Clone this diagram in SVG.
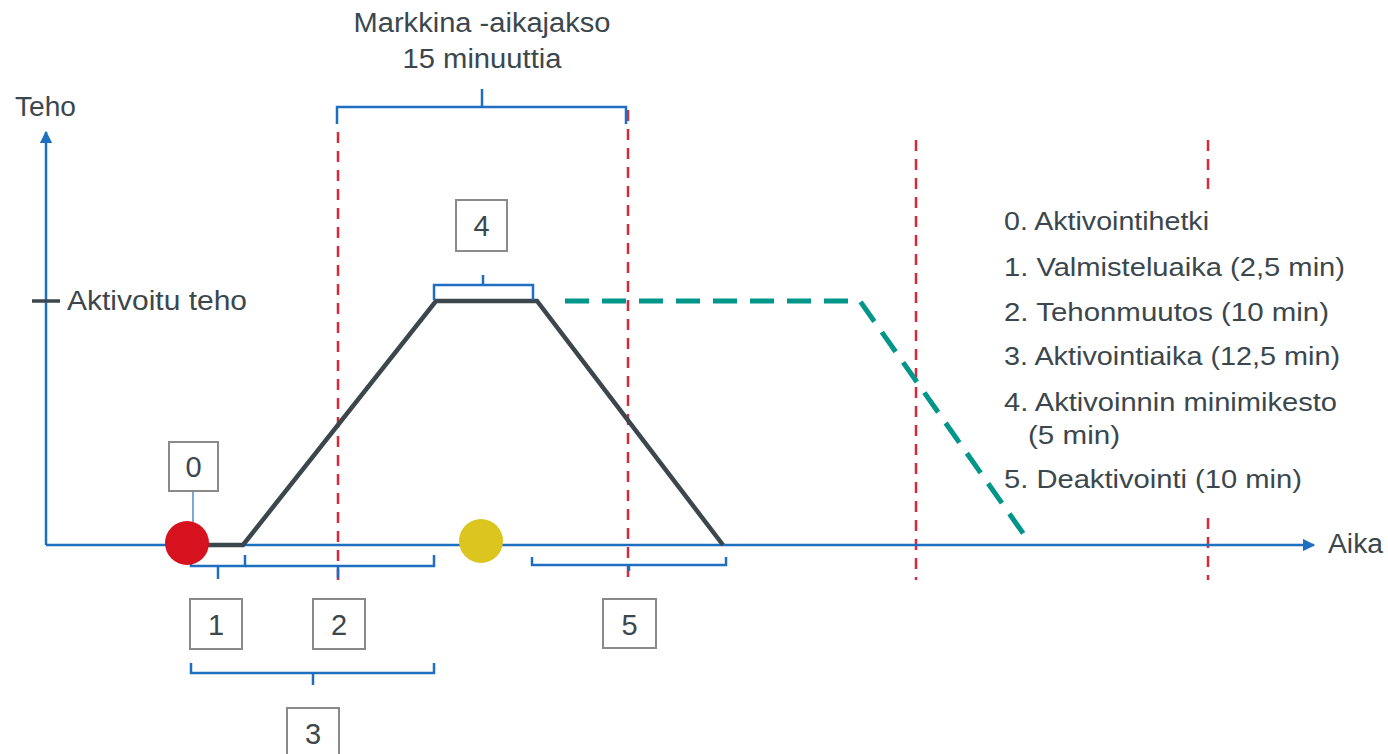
<svg xmlns="http://www.w3.org/2000/svg" width="1388" height="754" viewBox="0 0 1388 754">
<style>
text{font-family:"Liberation Sans",Arial,sans-serif;fill:#3b474d;font-size:25px}
.big{font-size:27px}
.num{font-size:29px;text-anchor:middle}
.ax{stroke:#1f6fc0;stroke-width:2.5;fill:none}
.br{stroke:#1f6fc0;stroke-width:2.5;fill:none}
.red{stroke:#d8283a;stroke-width:2.5;stroke-dasharray:11 8;fill:none}
.box{fill:#fff;stroke:#8a8a8a;stroke-width:2}
.pw{stroke:#3b474d;stroke-width:4.5;fill:none;stroke-linejoin:miter}
.teal{stroke:#00968a;stroke-width:5;stroke-dasharray:24 13;fill:none}
</style>
<defs>
<marker id="ah" viewBox="0 0 10 10" refX="9" refY="5" markerWidth="5" markerHeight="5" orient="auto" markerUnits="strokeWidth">
<path d="M0,0 L10,5 L0,10 z" fill="#1f6fc0"/>
</marker>
</defs>
<rect width="1388" height="754" fill="#fff"/>
<g id="grid">
<line class="red" x1="338" y1="132" x2="338" y2="580"/>
<line class="red" x1="628" y1="110" x2="628" y2="580"/>
<line class="red" x1="916" y1="140" x2="916" y2="580"/>
<line class="red" x1="1208" y1="140" x2="1208" y2="195"/>
<line class="red" x1="1208" y1="518" x2="1208" y2="580"/>
</g>
<g id="axes">
<line class="ax" x1="46" y1="545" x2="46" y2="132" marker-end="url(#ah)"/>
<line class="ax" x1="46" y1="545" x2="1314" y2="545" marker-end="url(#ah)"/>
<line x1="32" y1="301" x2="60" y2="301" stroke="#3b474d" stroke-width="3.5"/>
<text class="big" x="15" y="116" textLength="61" lengthAdjust="spacingAndGlyphs">Teho</text>
<text class="big" x="67" y="310" textLength="180" lengthAdjust="spacingAndGlyphs">Aktivoitu  teho</text>
<text class="big" x="1328" y="553" textLength="55" lengthAdjust="spacingAndGlyphs">Aika</text>
</g>
<g id="connectors">
<polyline class="pw" points="208,545 243,545 436,301 537,301 723,545"/>
<polyline class="teal" points="565,301 860,301 1025,536"/>
<line x1="193" y1="490" x2="193" y2="522" stroke="#1f6fc0" stroke-width="1.2"/>
<path class="br" d="M337,124 V107 H626 V124 M482,107 V89"/>
<path class="br" d="M434,300 V285 H533 V300 M483,285 V275"/>
<path class="br" d="M191,556 V566 H245 V555 M218,566 V579"/>
<path class="br" d="M245,566 H434 V555 M338,566 V578"/>
<path class="br" d="M191,663 V673 H434 V663 M313,673 V685"/>
<path class="br" d="M532,557 V565 H726 V557 M629,565 V571"/>
</g>
<g id="title">
<text class="big" x="482" y="32" text-anchor="middle" textLength="257" lengthAdjust="spacingAndGlyphs">Markkina -aikajakso</text>
<text class="big" x="482" y="68" text-anchor="middle" textLength="159" lengthAdjust="spacingAndGlyphs">15 minuuttia</text>
</g>
<g id="dot-red"><circle cx="187" cy="543" r="22" fill="#d7121f"/></g>
<g id="dot-yellow"><circle cx="481" cy="541" r="22" fill="#dcc51f"/></g>
<g id="box0"><rect class="box" x="169" y="442" width="49" height="49"/><text class="num" x="193.5" y="477">0</text></g>
<g id="box1"><rect class="box" x="190" y="599" width="52" height="50"/><text class="num" x="216" y="635">1</text></g>
<g id="box2"><rect class="box" x="313" y="599" width="52" height="50"/><text class="num" x="339" y="635">2</text></g>
<g id="box3"><rect class="box" x="287" y="708" width="52" height="50"/><text class="num" x="313" y="744">3</text></g>
<g id="box4"><rect class="box" x="456" y="200" width="51" height="51"/><text class="num" x="481.5" y="236">4</text></g>
<g id="box5"><rect class="box" x="603" y="599" width="53" height="49"/><text class="num" x="629.5" y="635">5</text></g>
<g id="legend">
<text x="1004" y="230" textLength="205" lengthAdjust="spacingAndGlyphs">0. Aktivointihetki</text>
<text x="1004" y="276" textLength="341" lengthAdjust="spacingAndGlyphs">1. Valmisteluaika (2,5 min)</text>
<text x="1004" y="321" textLength="325" lengthAdjust="spacingAndGlyphs">2. Tehonmuutos (10 min)</text>
<text x="1004" y="365" textLength="336" lengthAdjust="spacingAndGlyphs">3. Aktivointiaika (12,5 min)</text>
<text x="1004" y="411" textLength="333" lengthAdjust="spacingAndGlyphs">4. Aktivoinnin minimikesto</text>
<text x="1028" y="444" textLength="92" lengthAdjust="spacingAndGlyphs">(5 min)</text>
<text x="1004" y="488" textLength="298" lengthAdjust="spacingAndGlyphs">5. Deaktivointi (10 min)</text>
</g>
</svg>
